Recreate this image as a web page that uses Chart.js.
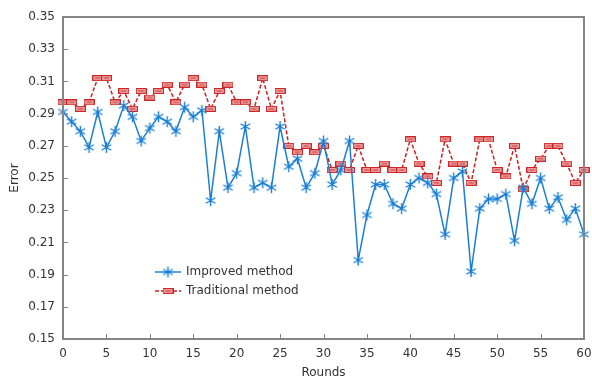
<!DOCTYPE html>
<html>
<head>
<meta charset="utf-8">
<script src="https://cdn.jsdelivr.net/npm/chart.js@4.4.1/dist/chart.umd.min.js"></script>
<style>
  html, body { margin: 0; padding: 0; background: #fff; }
  #wrap { width: 592px; height: 380px; position: relative; }
</style>
</head>
<body>
<div id="wrap"><canvas id="chart"></canvas></div>
<script>
// rounds on the x axis
const rounds = [0, 1, 2, 3, 4, 5, 6, 7, 8, 9, 10, 11, 12, 13, 14, 15, 16, 17, 18, 19,
  20, 21, 22, 23, 24, 25, 26, 27, 28, 29, 30, 31, 32, 33, 34, 35, 36, 37, 38, 39,
  40, 41, 42, 43, 44, 45, 46, 47, 48, 49, 50, 51, 52, 53, 54, 55, 56, 57, 58, 59, 60];

const improved = [0.291, 0.285, 0.279, 0.269, 0.291, 0.269, 0.279, 0.295, 0.288, 0.273,
  0.281, 0.288, 0.285, 0.279, 0.294, 0.288, 0.292, 0.236, 0.279, 0.244,
  0.253, 0.282, 0.244, 0.247, 0.244, 0.282, 0.257, 0.262, 0.244, 0.253,
  0.273, 0.246, 0.255, 0.273, 0.199, 0.227, 0.246, 0.246, 0.234, 0.231,
  0.246, 0.250, 0.247, 0.240, 0.215, 0.250, 0.254, 0.192, 0.231, 0.237,
  0.237, 0.240, 0.211, 0.244, 0.234, 0.250, 0.231, 0.238, 0.224, 0.231, 0.215];

const traditional = [0.297, 0.297, 0.293, 0.297, 0.312, 0.312, 0.297, 0.304, 0.293, 0.304,
  0.300, 0.304, 0.308, 0.297, 0.308, 0.312, 0.308, 0.293, 0.304, 0.308,
  0.297, 0.297, 0.293, 0.312, 0.293, 0.304, 0.270, 0.266, 0.270, 0.266,
  0.270, 0.255, 0.259, 0.255, 0.270, 0.255, 0.255, 0.259, 0.255, 0.255,
  0.274, 0.259, 0.251, 0.247, 0.274, 0.259, 0.259, 0.247, 0.274, 0.274,
  0.255, 0.251, 0.270, 0.243, 0.255, 0.262, 0.270, 0.270, 0.259, 0.247, 0.255];

const seriesNames = ['Improved method', 'Traditional method'];

const BLUE = '#1a7fd4';
const RED = '#cc1f1f';
const AXIS = '#858585';
const TEXT = '#333333';
const FONT = 'DejaVu Sans';

// asterisk marker (vertical + two diagonals)
function asteriskMarker() {
  const c = document.createElement('canvas');
  c.width = 13; c.height = 13;
  const g = c.getContext('2d');
  g.strokeStyle = BLUE;
  g.lineWidth = 1.4;
  const cx = 6.5, cy = 6.5, r = 5.5;
  g.beginPath();
  g.moveTo(cx, cy - r); g.lineTo(cx, cy + r);
  g.moveTo(cx - r * 0.87, cy - r * 0.5); g.lineTo(cx + r * 0.87, cy + r * 0.5);
  g.moveTo(cx - r * 0.87, cy + r * 0.5); g.lineTo(cx + r * 0.87, cy - r * 0.5);
  g.stroke();
  return c;
}

// small boxed dash marker
function boxMarker() {
  const c = document.createElement('canvas');
  c.width = 11; c.height = 6;
  const g = c.getContext('2d');
  g.fillStyle = '#f2b5b5';
  g.fillRect(0.5, 0.5, 10, 5);
  g.strokeStyle = RED;
  g.lineWidth = 1.1;
  g.strokeRect(0.6, 0.6, 9.8, 4.8);
  g.fillStyle = RED;
  g.fillRect(2.5, 2.5, 6, 1);
  return c;
}

const starImg = asteriskMarker();
const boxImg = boxMarker();

function toPoints(values) {
  return rounds.map((r, i) => ({ x: r, y: values[i] }));
}

// frame around the plot and inward ticks on the left and bottom axes
const framePlugin = {
  id: 'frame',
  afterDatasetsDraw(chart) {
    const { ctx, chartArea: a, scales } = chart;
    ctx.save();
    ctx.strokeStyle = AXIS;
    ctx.lineWidth = 2;
    ctx.strokeRect(a.left, a.top, a.right - a.left, a.bottom - a.top);
    ctx.lineWidth = 1;
    ctx.beginPath();
    scales.y.ticks.forEach((t) => {
      const y = Math.round(scales.y.getPixelForValue(t.value)) + 0.5;
      ctx.moveTo(a.left, y); ctx.lineTo(a.left + 5, y);
    });
    scales.x.ticks.forEach((t) => {
      const x = Math.round(scales.x.getPixelForValue(t.value)) + 0.5;
      ctx.moveTo(x, a.bottom); ctx.lineTo(x, a.bottom - 5);
    });
    ctx.stroke();
    ctx.restore();
  }
};

// legend inside the plot: line sample with marker, then the name
const legendPlugin = {
  id: 'insideLegend',
  afterDraw(chart) {
    const { ctx } = chart;
    const rows = [
      { y: 272, color: BLUE, dash: [], img: starImg },
      { y: 291, color: RED, dash: [4, 2], img: boxImg }
    ];
    ctx.save();
    rows.forEach((row, i) => {
      ctx.strokeStyle = row.color;
      ctx.lineWidth = 1.5;
      ctx.setLineDash(row.dash);
      ctx.beginPath();
      ctx.moveTo(155, row.y);
      ctx.lineTo(181, row.y);
      ctx.stroke();
      ctx.setLineDash([]);
      ctx.drawImage(row.img, 168 - row.img.width / 2, row.y - row.img.height / 2);
      ctx.fillStyle = TEXT;
      ctx.font = '12px "' + FONT + '"';
      ctx.textBaseline = 'middle';
      ctx.fillText(seriesNames[i], 186, row.y);
    });
    ctx.restore();
  }
};

new Chart(document.getElementById('chart'), {
  type: 'line',
  data: {
    datasets: [
      {
        label: seriesNames[0],
        data: toPoints(improved),
        borderColor: BLUE,
        borderWidth: 1.5,
        pointStyle: starImg,
        tension: 0,
        clip: false
      },
      {
        label: seriesNames[1],
        data: toPoints(traditional),
        borderColor: RED,
        borderWidth: 1.5,
        borderDash: [4, 2],
        pointStyle: boxImg,
        tension: 0,
        clip: false
      }
    ]
  },
  options: {
    responsive: true,
    maintainAspectRatio: false,
    animation: false,
    devicePixelRatio: 1,
    layout: { padding: { top: 17, right: 8, left: 0, bottom: 0 } },
    plugins: { legend: { display: false }, tooltip: { enabled: false } },
    scales: {
      x: {
        type: 'linear',
        min: 0,
        max: 60,
        ticks: { stepSize: 5, color: TEXT, font: { family: FONT, size: 12 }, padding: 8, maxRotation: 0 },
        grid: { display: false, drawTicks: false },
        border: { display: false },
        title: { display: true, text: 'Rounds', color: TEXT, font: { family: FONT, size: 12 }, padding: { top: 0, bottom: 0 } },
        afterFit(scale) {
          scale.height = 41;
          scale.paddingLeft = 0;
          scale.paddingRight = 0;
        }
      },
      y: {
        min: 0.15,
        max: 0.35,
        ticks: {
          stepSize: 0.02,
          color: TEXT,
          font: { family: FONT, size: 12 },
          padding: 8,
          callback: (v) => v.toFixed(2)
        },
        grid: { display: false, drawTicks: false },
        border: { display: false },
        title: { display: true, text: 'Error', color: TEXT, font: { family: FONT, size: 12 }, padding: { top: 8, bottom: 0 } },
        afterFit(scale) {
          scale.width = 63;
          scale.paddingTop = 0;
          scale.paddingBottom = 0;
        }
      }
    }
  },
  plugins: [framePlugin, legendPlugin]
});
</script>
</body>
</html>
